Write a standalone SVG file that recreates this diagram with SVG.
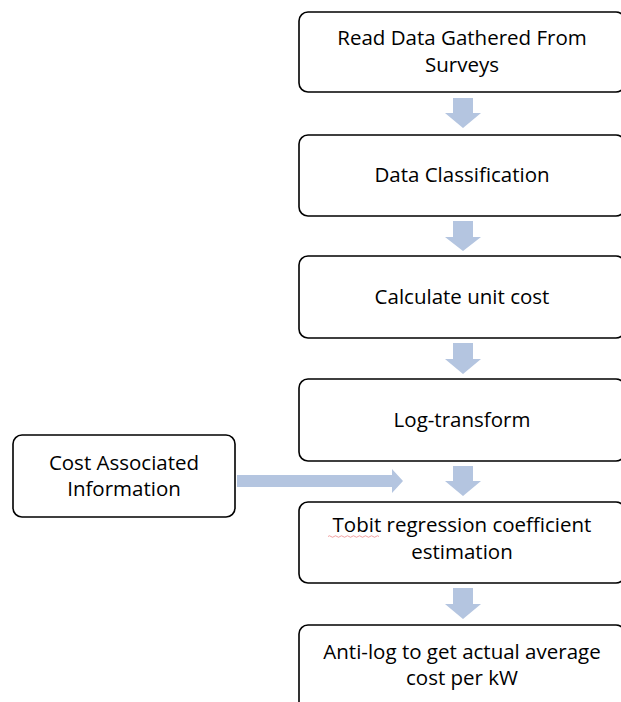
<svg xmlns="http://www.w3.org/2000/svg" width="621" height="702" viewBox="0 0 621 702">
<style>
.box{fill:#fff;stroke:#000;stroke-width:1.6}
.t{font-family:"Open Sans","Liberation Sans",sans-serif;font-size:20.5px;fill:#000;text-anchor:middle}
.arr{fill:#b4c5e0}
</style>
<rect width="621" height="702" fill="#fff"/>
<g id="connectors">
<path class="arr" d="M453,98 H473 V113 H481 L463,128 L445,113 H453 Z"/>
<path class="arr" d="M453,221 H473 V237 H481 L463,251 L445,237 H453 Z"/>
<path class="arr" d="M453,343 H473 V359 H481 L463,374 L445,359 H453 Z"/>
<path class="arr" d="M453,466 H473 V481 H481 L463,496 L445,481 H453 Z"/>
<path class="arr" d="M453,588 H473 V604 H481 L463,619 L445,604 H453 Z"/>
<path class="arr" d="M237,475 H392 V469 L403,481 L392,493 V487 H237 Z"/>
</g>
<g id="n1"><rect class="box" x="299" y="12" width="326" height="80" rx="9"/><text class="t" x="462" y="45">Read Data Gathered From</text><text class="t" x="462" y="72">Surveys</text></g>
<g id="n2"><rect class="box" x="299" y="135" width="326" height="81" rx="9"/><text class="t" x="462" y="182">Data Classification</text></g>
<g id="n3"><rect class="box" x="299" y="256" width="326" height="82" rx="9"/><text class="t" x="462" y="304">Calculate unit cost</text></g>
<g id="n4"><rect class="box" x="299" y="379" width="326" height="82" rx="9"/><text class="t" x="462" y="427">Log-transform</text></g>
<g id="n5"><rect class="box" x="299" y="502" width="326" height="81" rx="9"/><text class="t" x="462" y="532">Tobit regression coefficient</text><text class="t" x="462" y="559">estimation</text>
<path d="M328,536.5 q1.5,-1.5 3,0 t3,0 t3,0 t3,0 t3,0 t3,0 t3,0 t3,0 t3,0 t3,0 t3,0 t3,0 t3,0 t3,0 t3,0 t3,0 t3,0" fill="none" stroke="#e88" stroke-width="0.8"/></g>
<g id="n6"><rect class="box" x="299" y="625" width="326" height="90" rx="9"/><text class="t" x="462" y="659">Anti-log to get actual average</text><text class="t" x="462" y="685">cost per kW</text></g>
<g id="n7"><rect class="box" x="13" y="435" width="222" height="82" rx="9"/><text class="t" x="124" y="470">Cost Associated</text><text class="t" x="124" y="496">Information</text></g>
</svg>
